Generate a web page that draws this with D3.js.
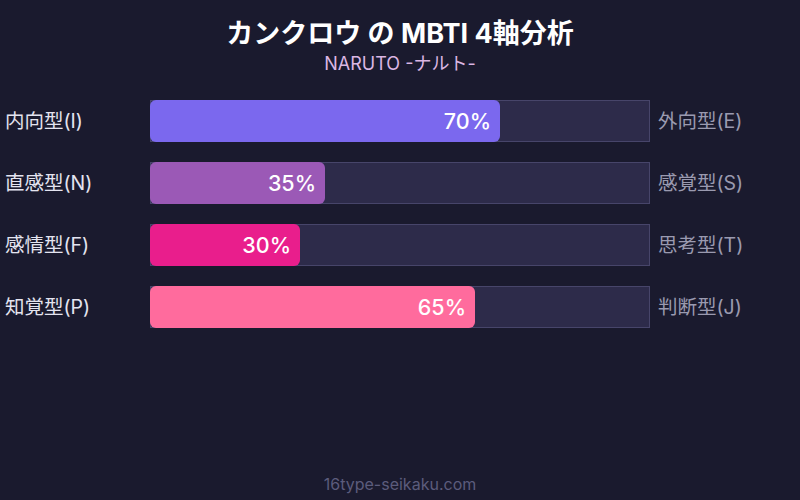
<!DOCTYPE html>
<html>
<head>
<meta charset="utf-8">
<script src="https://cdn.jsdelivr.net/npm/d3@7"></script>
<style>
  html, body { margin: 0; padding: 0; background: #1a1a2e; }
  svg { display: block; font-family: Inter, "Noto Sans CJK JP", sans-serif; }
</style>
</head>
<body>
<div id="chart"></div>
<script>
// chart values
let leftLabels = ["内向型(I)", "直感型(N)", "感情型(F)", "知覚型(P)"];
let rightLabels = ["外向型(E)", "感覚型(S)", "思考型(T)", "判断型(J)"];
let values = [70, 35, 30, 65];
let barColors = ["#7b68ee", "#9b59b6", "#e91e8c", "#ff6b9d"];

let width = 800, height = 500;

let svg = d3.select("#chart")
    .append("svg")
    .attr("width", width)
    .attr("height", height);

svg.append("rect")
    .attr("width", width)
    .attr("height", height)
    .attr("fill", "#1a1a2e");

// title
svg.append("text")
    .attr("x", width / 2)
    .attr("y", 43)
    .style("text-anchor", "middle")
    .style("font-size", "27px")
    .style("font-weight", "bold")
    .attr("fill", "#ffffff")
    .text("カンクロウ の MBTI 4軸分析");

svg.append("text")
    .attr("x", width / 2)
    .attr("y", 70)
    .style("text-anchor", "middle")
    .style("font-size", "18px")
    .attr("fill", "#dbb6e3")
    .text("NARUTO -ナルト-");

// scales
let x = d3.scaleLinear()
    .domain([0, 100])
    .range([150, 650]);

let y = d3.scaleBand()
    .domain(d3.range(values.length))
    .range([100, 328])
    .paddingInner(20 / 62)
    .paddingOuter(0);

let rows = svg.selectAll("g.row")
    .data(values)
    .enter()
    .append("g")
    .attr("class", "row");

// background track
rows.append("rect")
    .attr("x", x(0) + 0.5)
    .attr("y", (d, i) => y(i) + 0.5)
    .attr("width", x(100) - x(0) - 1)
    .attr("height", y.bandwidth() - 1)
    .attr("fill", "#2d2b4a")
    .attr("stroke", "#47456a")
    .attr("stroke-width", 1);

// value bar
rows.append("rect")
    .attr("x", x(0))
    .attr("y", (d, i) => y(i))
    .attr("width", d => x(d) - x(0))
    .attr("height", y.bandwidth())
    .attr("rx", 6)
    .attr("fill", (d, i) => barColors[i]);

// value label
rows.append("text")
    .attr("x", d => x(d) - 9)
    .attr("y", (d, i) => y(i) + y.bandwidth() / 2)
    .attr("dy", "0.36em")
    .style("text-anchor", "end")
    .style("font-size", "21.5px")
    .style("font-weight", "500")
    .attr("fill", "#ffffff")
    .text(d => d + "%");

// left labels
rows.append("text")
    .attr("x", 5)
    .attr("y", (d, i) => y(i) + y.bandwidth() / 2)
    .attr("dy", "0.35em")
    .style("font-size", "19.5px")
    .attr("fill", "#e4e4f0")
    .text((d, i) => leftLabels[i]);

// right labels
rows.append("text")
    .attr("x", 658)
    .attr("y", (d, i) => y(i) + y.bandwidth() / 2)
    .attr("dy", "0.35em")
    .style("font-size", "19.5px")
    .attr("fill", "#9a9ab0")
    .text((d, i) => rightLabels[i]);

// footer
svg.append("text")
    .attr("x", width / 2)
    .attr("y", 490)
    .style("text-anchor", "middle")
    .style("font-size", "16px")
    .attr("fill", "#5c5c7c")
    .text("16type-seikaku.com");
</script>
</body>
</html>
